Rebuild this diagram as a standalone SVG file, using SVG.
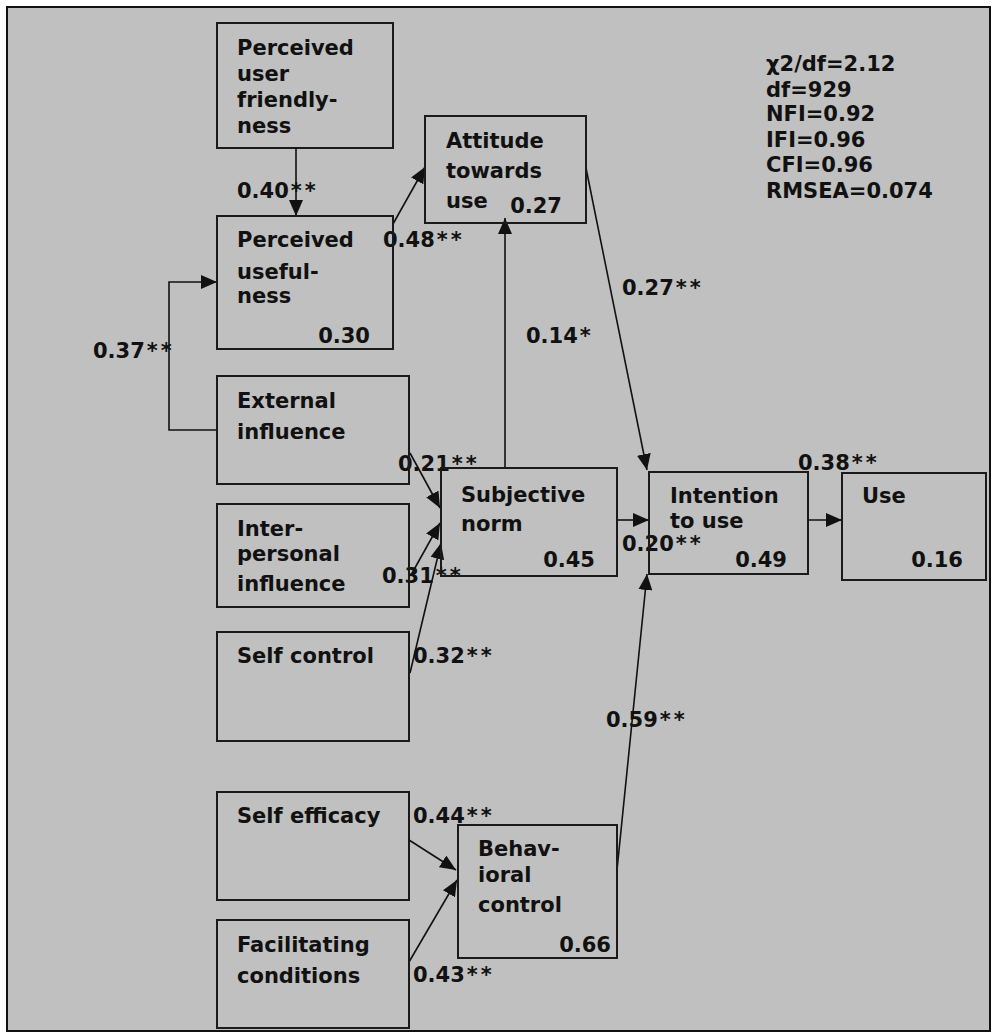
<svg xmlns="http://www.w3.org/2000/svg" width="992" height="1033" viewBox="0 0 992 1033">
  <style>
    .frame { fill: #c0c0c0; stroke: #111; stroke-width: 2; }
    .box { fill: none; stroke: #1a1a1a; stroke-width: 2; }
    .edge { fill: none; stroke: #111; stroke-width: 1.6; marker-end: url(#arrow); }
    text { font-family: "DejaVu Sans", "Verdana", sans-serif; font-weight: bold; font-size: 21px; fill: #111; }
    .st { letter-spacing: 3px; }
  </style>
  <defs>
    <marker id="arrow" markerUnits="userSpaceOnUse" markerWidth="17" markerHeight="14" refX="16" refY="7" orient="auto">
      <path d="M0,0 L16,7 L0,14 z" fill="#111"/>
    </marker>
  </defs>

  <rect x="0" y="0" width="992" height="1033" fill="#ffffff"/>
  <rect class="frame" x="7" y="7" width="983" height="1024"/>

  <!-- fit statistics -->
  <g id="fit-stats">
    <text x="766" y="71">χ2/df=2.12</text>
    <text x="766" y="97">df=929</text>
    <text x="766" y="121">NFI=0.92</text>
    <text x="766" y="147">IFI=0.96</text>
    <text x="766" y="172">CFI=0.96</text>
    <text x="766" y="198">RMSEA=0.074</text>
  </g>

  <!-- connectors -->
  <g id="connectors">
    <path class="edge" d="M296,149 L296,216"/>
    <path class="edge" d="M393,224 L425,167"/>
    <path class="edge" d="M217,430 L169,430 L169,282 L217,282"/>
    <path class="edge" d="M505,468 L505,218"/>
    <path class="edge" d="M586,168 L647,470"/>
    <path class="edge" d="M617,520 L649,520"/>
    <path class="edge" d="M808,520 L842,520"/>
    <path class="edge" d="M410,453 L440,508"/>
    <path class="edge" d="M411,575 L440,523"/>
    <path class="edge" d="M410,673 L441,543"/>
    <path class="edge" d="M409,840 L456,870"/>
    <path class="edge" d="M409,962 L457,880"/>
    <path class="edge" d="M617,870 L647,574"/>
  </g>

  <!-- path coefficients -->
  <g id="coefficients">
    <text x="237" y="198">0.40<tspan class="st" dx="2">**</tspan></text>
    <text x="383" y="247">0.48<tspan class="st" dx="2">**</tspan></text>
    <text x="93" y="358">0.37<tspan class="st" dx="2">**</tspan></text>
    <text x="622" y="295">0.27<tspan class="st" dx="2">**</tspan></text>
    <text x="526" y="343">0.14<tspan dx="2">*</tspan></text>
    <text x="398" y="471">0.21<tspan class="st" dx="2">**</tspan></text>
    <text x="382" y="583">0.31<tspan class="st" dx="2">**</tspan></text>
    <text x="413" y="663">0.32<tspan class="st" dx="2">**</tspan></text>
    <text x="622" y="551">0.20<tspan class="st" dx="2">**</tspan></text>
    <text x="798" y="470">0.38<tspan class="st" dx="2">**</tspan></text>
    <text x="606" y="727">0.59<tspan class="st" dx="2">**</tspan></text>
    <text x="413" y="823">0.44<tspan class="st" dx="2">**</tspan></text>
    <text x="413" y="982">0.43<tspan class="st" dx="2">**</tspan></text>
  </g>

  <g id="perceived-user-friendlyness">
    <rect class="box" x="217" y="23" width="176" height="125"/>
    <text x="237" y="55">Perceived</text>
    <text x="237" y="81">user</text>
    <text x="237" y="107">friendly-</text>
    <text x="237" y="133">ness</text>
  </g>

  <g id="perceived-usefulness">
    <rect class="box" x="217" y="216" width="176" height="133"/>
    <text x="237" y="247">Perceived</text>
    <text x="237" y="279">useful-</text>
    <text x="237" y="303">ness</text>
    <text x="370" y="343" text-anchor="end">0.30</text>
  </g>

  <g id="attitude-towards-use">
    <rect class="box" x="425" y="116" width="161" height="107"/>
    <text x="446" y="148">Attitude</text>
    <text x="446" y="178">towards</text>
    <text x="446" y="208">use</text>
    <text x="562" y="213" text-anchor="end">0.27</text>
  </g>

  <g id="external-influence">
    <rect class="box" x="217" y="376" width="192" height="108"/>
    <text x="237" y="408">External</text>
    <text x="237" y="439">influence</text>
  </g>

  <g id="interpersonal-influence">
    <rect class="box" x="217" y="504" width="192" height="103"/>
    <text x="237" y="536">Inter-</text>
    <text x="237" y="561">personal</text>
    <text x="237" y="591">influence</text>
  </g>

  <g id="self-control">
    <rect class="box" x="217" y="632" width="192" height="109"/>
    <text x="237" y="663">Self control</text>
  </g>

  <g id="subjective-norm">
    <rect class="box" x="441" y="468" width="176" height="108"/>
    <text x="461" y="502">Subjective</text>
    <text x="461" y="531">norm</text>
    <text x="595" y="567" text-anchor="end">0.45</text>
  </g>

  <g id="intention-to-use">
    <rect class="box" x="649" y="472" width="159" height="102"/>
    <text x="670" y="503">Intention</text>
    <text x="670" y="528">to use</text>
    <text x="787" y="567" text-anchor="end">0.49</text>
  </g>

  <g id="use">
    <rect class="box" x="842" y="473" width="144" height="107"/>
    <text x="862" y="503">Use</text>
    <text x="963" y="567" text-anchor="end">0.16</text>
  </g>

  <g id="self-efficacy">
    <rect class="box" x="217" y="792" width="192" height="108"/>
    <text x="237" y="823">Self efficacy</text>
  </g>

  <g id="facilitating-conditions">
    <rect class="box" x="217" y="920" width="192" height="108"/>
    <text x="237" y="952">Facilitating</text>
    <text x="237" y="983">conditions</text>
  </g>

  <g id="behavioral-control">
    <rect class="box" x="458" y="825" width="159" height="133"/>
    <text x="478" y="856">Behav-</text>
    <text x="478" y="882">ioral</text>
    <text x="478" y="912">control</text>
    <text x="611" y="952" text-anchor="end">0.66</text>
  </g>
</svg>
